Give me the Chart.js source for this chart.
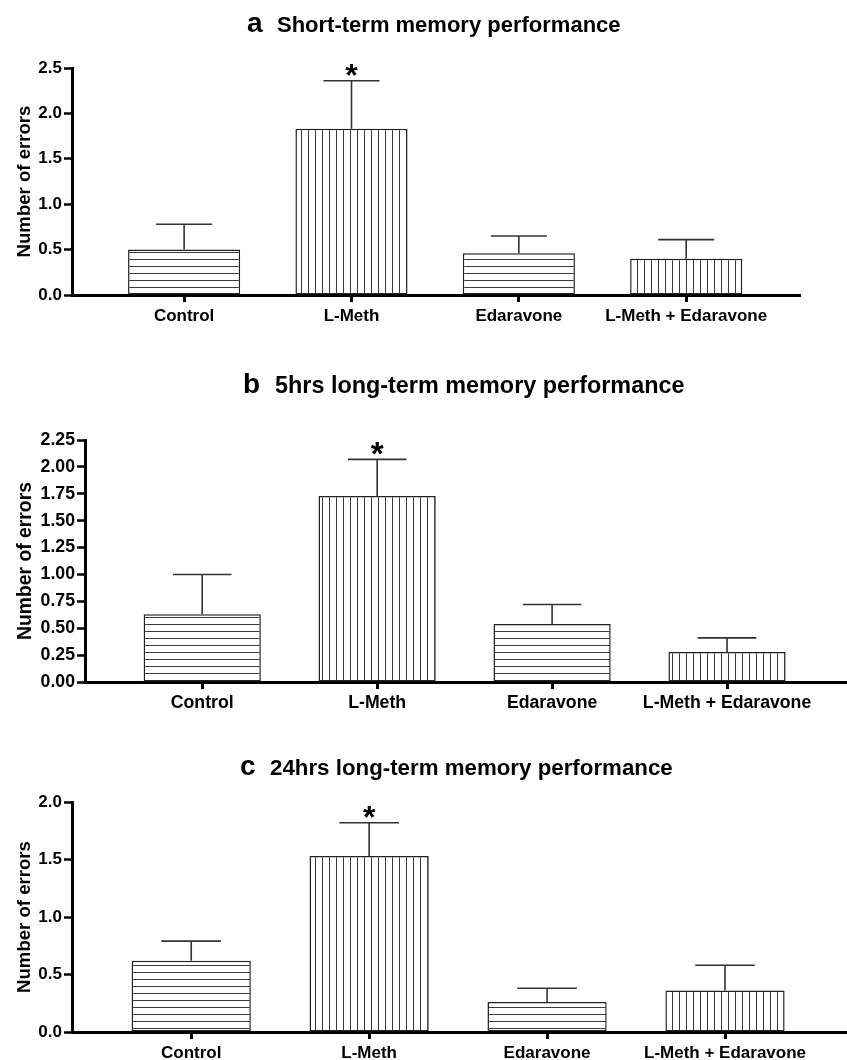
<!DOCTYPE html>
<html>
<head>
<meta charset="utf-8">
<script src="https://cdn.jsdelivr.net/npm/chart.js@4.4.1/dist/chart.umd.min.js"></script>
<style>
  html, body { margin: 0; padding: 0; background: #fff; }
  #wrap { position: relative; width: 847px; height: 1060px; overflow: hidden; }
  canvas { position: absolute; left: 0; }
</style>
</head>
<body>
<div id="wrap">
  <canvas id="panelA" width="847" height="330" style="top:0px"></canvas>
  <canvas id="panelB" width="847" height="390" style="top:330px"></canvas>
  <canvas id="panelC" width="847" height="340" style="top:720px"></canvas>
</div>
<script>
// ================== DATA ==================
const categories = ["Control", "L-Meth", "Edaravone", "L-Meth + Edaravone"];
const stripeDir  = ["h", "v", "h", "v"];
const sigMarks   = ["", "*", "", ""];

// a: short-term memory
const shortMean  = [0.50, 1.83, 0.46, 0.40];
const shortSem   = [0.28, 0.53, 0.19, 0.21];
const shortTicks = [0, 0.5, 1.0, 1.5, 2.0, 2.5];

// b: 5 hrs long-term memory
const fiveMean   = [0.63, 1.73, 0.54, 0.28];
const fiveSem    = [0.37, 0.34, 0.18, 0.13];
const fiveTicks  = [0, 0.25, 0.5, 0.75, 1.0, 1.25, 1.5, 1.75, 2.0, 2.25];

// c: 24 hrs long-term memory
const dayMean    = [0.62, 1.53, 0.26, 0.36];
const daySem     = [0.17, 0.29, 0.12, 0.22];
const dayTicks   = [0, 0.5, 1.0, 1.5, 2.0];

// ================== HELPERS ==================
const FONT = "'Liberation Sans', Arial, sans-serif";

function stripes(ctx, dir, gap) {
  const c = document.createElement("canvas");
  c.width = dir === "h" ? 8 : gap;
  c.height = dir === "h" ? gap : 8;
  const g = c.getContext("2d");
  g.fillStyle = "#fff";
  g.fillRect(0, 0, c.width, c.height);
  g.fillStyle = "#3a3a3a";
  if (dir === "h") g.fillRect(0, 0, c.width, 1);
  else g.fillRect(0, 0, 1, c.height);
  return ctx.createPattern(c, "repeat");
}

function decorPlugin(p) {
  return {
    id: "decor",
    afterDatasetsDraw(chart) {
      const { ctx } = chart;
      const y = chart.scales.y;
      const meta = chart.getDatasetMeta(0);
      ctx.save();
      ctx.strokeStyle = "#333";
      ctx.lineWidth = 1.6;
      p.mean.forEach((m, i) => {
        const bar = meta.data[i];
        const cx = bar.x;
        const top = y.getPixelForValue(m);
        const end = y.getPixelForValue(m + p.sem[i]);
        const half = bar.width / 4;
        ctx.beginPath();
        ctx.moveTo(cx, top); ctx.lineTo(cx, end);
        ctx.moveTo(cx - half, end); ctx.lineTo(cx + half, end);
        ctx.stroke();
        if (sigMarks[i]) {
          // significance star just above the cap
          ctx.fillStyle = "#000";
          ctx.textAlign = "center";
          ctx.textBaseline = "alphabetic";
          ctx.font = `bold ${32 * p.fs}px ${FONT}`;
          ctx.fillText(sigMarks[i], cx, end + 5.5);
        }
      });
      // panel title
      ctx.fillStyle = "#000";
      ctx.textAlign = "left";
      ctx.textBaseline = "alphabetic";
      ctx.font = `bold 28px ${FONT}`;
      ctx.fillText(p.letter, p.letterX, p.titleY);
      ctx.font = `bold ${p.titleSize}px ${FONT}`;
      ctx.fillText(p.title, p.titleX, p.titleY);
      ctx.restore();
    }
  };
}

function makePanel(id, p) {
  const canvas = document.getElementById(id);
  const ctx = canvas.getContext("2d");
  const last = p.ticks[p.ticks.length - 1];
  const dec = p.ticks.some(v => Math.round(v * 100) % 50 !== 0) ? 2 : 1;
  const tickFont = { family: FONT, weight: "bold", size: 17 * p.fs };

  return new Chart(ctx, {
    type: "bar",
    data: {
      datasets: [{
        data: p.mean.map((m, i) => ({ x: i, y: m })),
        backgroundColor: stripeDir.map(d => stripes(ctx, d, p.gap)),
        borderColor: "#222",
        borderWidth: 1.5,
        borderSkipped: false,
        barPercentage: 0.67,
        categoryPercentage: 1.0
      }]
    },
    options: {
      responsive: false,
      animation: false,
      devicePixelRatio: 1,
      layout: { padding: { top: p.padTop, right: p.padRight, left: 0, bottom: 0 } },
      plugins: { legend: { display: false }, tooltip: { enabled: false } },
      scales: {
        x: {
          type: "linear",
          offset: false,
          min: -0.67,
          max: 3.68,
          afterBuildTicks: s => { s.ticks = categories.map((_, i) => ({ value: i })); },
          afterFit: s => { s.height = p.xAxisH; },
          ticks: {
            callback: v => categories[v],
            font: tickFont, color: "#000", padding: 4,
            autoSkip: false, maxRotation: 0
          },
          grid: { offset: false, drawOnChartArea: false, drawTicks: true, tickLength: 7, tickWidth: 3, color: "#000" },
          border: { display: true, width: 3, color: "#000" }
        },
        y: {
          min: 0,
          max: last,
          afterBuildTicks: s => { s.ticks = p.ticks.map(v => ({ value: v })); },
          afterFit: s => { s.width = p.yAxisW; },
          ticks: { callback: v => Number(v).toFixed(dec), font: tickFont, color: "#000", padding: 2 },
          grid: { drawOnChartArea: false, drawTicks: true, tickLength: 8, tickWidth: 2.5, color: "#000" },
          border: { display: true, width: 3, color: "#000" },
          title: {
            display: true,
            text: "Number of errors",
            color: "#000",
            font: { family: FONT, weight: "bold", size: 18.6 * p.fs },
            padding: { top: 14, bottom: 0 }
          }
        }
      }
    },
    plugins: [decorPlugin(p)]
  });
}

// ================== PANELS ==================
makePanel("panelA", {
  mean: shortMean, sem: shortSem, ticks: shortTicks,
  letter: "a", title: "Short-term memory performance",
  letterX: 247, titleX: 277, titleY: 32, titleSize: 22, fs: 1.0,
  padTop: 68, padRight: 47, xAxisH: 35, yAxisW: 72, gap: 7
});
makePanel("panelB", {
  mean: fiveMean, sem: fiveSem, ticks: fiveTicks,
  letter: "b", title: "5hrs long-term memory performance",
  letterX: 243, titleX: 275, titleY: 63, titleSize: 23.4, fs: 1.04,
  padTop: 110, padRight: 1, xAxisH: 38, yAxisW: 85, gap: 7
});
makePanel("panelC", {
  mean: dayMean, sem: daySem, ticks: dayTicks,
  letter: "c", title: "24hrs long-term memory performance",
  letterX: 240, titleX: 270, titleY: 55, titleSize: 22.3, fs: 1.0,
  padTop: 82, padRight: 1, xAxisH: 28, yAxisW: 72, gap: 7
});
</script>
</body>
</html>
